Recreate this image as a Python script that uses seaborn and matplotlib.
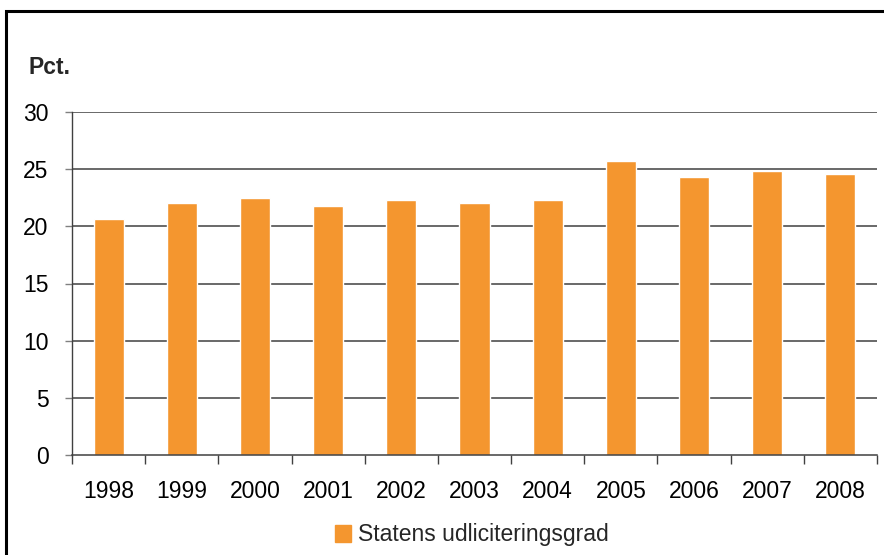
import matplotlib
matplotlib.use("Agg")
import matplotlib.pyplot as plt
import matplotlib.patches as mpatches
import seaborn as sns
import pandas as pd

years = ["1998", "1999", "2000", "2001", "2002", "2003", "2004", "2005", "2006", "2007", "2008"]
udliciteringsgrad = [20.6, 22.05, 22.5, 21.75, 22.3, 22.05, 22.3, 25.75, 24.35, 24.85, 24.6]
y_ticks = [0, 5, 10, 15, 20, 25, 30]
series_name = "Statens udliciteringsgrad"
unit_label = "Pct."

bar_color = "#F4962F"
grid_color = "#404040"
fs = 16.5

sns.set_theme(style="white")
plt.rcParams["font.family"] = ["Liberation Sans", "DejaVu Sans"]

df = pd.DataFrame({"year": years, "value": udliciteringsgrad})

fig = plt.figure(figsize=(8.84, 5.55), dpi=100)
ax = fig.add_axes([72 / 884, 1 - 455 / 555, (877 - 72) / 884, (455 - 112) / 555])

sns.barplot(data=df, x="year", y="value", color=bar_color, saturation=1,
            width=0.41, ax=ax, zorder=3)

ax.set_ylim(0, 30)
ax.set_xlim(-0.5, len(years) - 0.5)
ax.set_yticks(y_ticks)
ax.set_yticklabels([str(t) for t in y_ticks])
ax.set_xlabel("")
ax.set_ylabel("")

# horizontal gridlines
for t in y_ticks[1:]:
    ax.axhline(t, color=grid_color, lw=1.1, zorder=1)

for side in ["top", "right"]:
    ax.spines[side].set_visible(False)
ax.spines["left"].set_color(grid_color)
ax.spines["left"].set_linewidth(1.0)
ax.spines["bottom"].set_color(grid_color)
ax.spines["bottom"].set_linewidth(1.1)
ax.spines["bottom"].set_zorder(4)

# ticks between categories on x, outward ticks on y
ax.set_xticks([i - 0.5 for i in range(len(years) + 1)], minor=False)
ax.set_xticklabels([""] * (len(years) + 1))
ax.set_xticks(range(len(years)), minor=True)
ax.set_xticklabels(years, minor=True)
ax.tick_params(axis="x", which="major", direction="out", length=6.5, width=1.0,
               color=grid_color, bottom=True)
ax.tick_params(axis="x", which="minor", length=0, pad=18, labelsize=fs,
               labelcolor="black")
ax.tick_params(axis="y", direction="out", length=5, width=1.0, color="#808080",
               left=True, pad=12, labelsize=fs, labelcolor="black")

fig.text(29 / 884, 1 - 67 / 555, unit_label, fontsize=fs, fontweight="bold",
         ha="left", va="center")

handle = mpatches.Patch(color=bar_color, label=series_name)
fig.legend(handles=[handle], loc="center", bbox_to_anchor=(472 / 884, 1 - 535 / 555),
           frameon=False, fontsize=fs, handlelength=0.7, handleheight=0.7,
           handletextpad=0.3, borderpad=0)

# outer frame around the figure panel
frame = mpatches.Rectangle((6 / 884, -0.2), 1.2, 1.2 - 11 / 555,
                           transform=fig.transFigure, fill=False,
                           edgecolor="black", lw=2.2, clip_on=False)
fig.patches.append(frame)

fig.savefig("out.png", dpi=100)
